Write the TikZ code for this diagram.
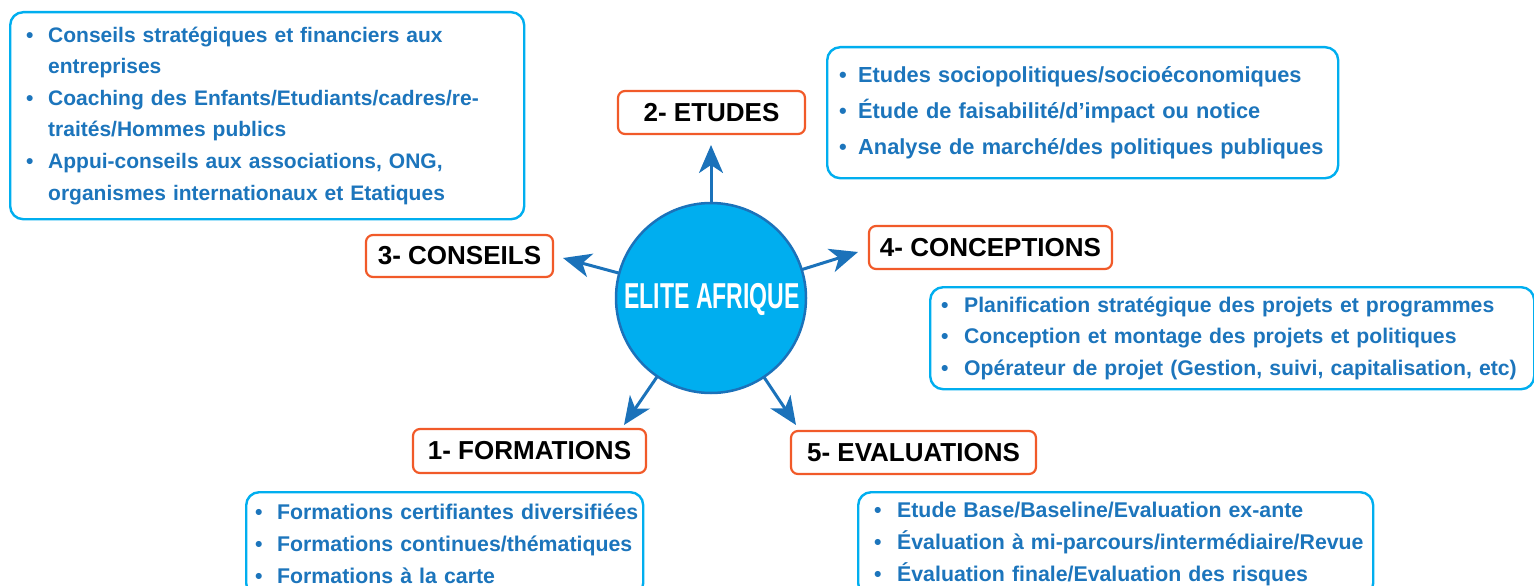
\documentclass[tikz,border=0pt]{standalone}
\usepackage{fontspec}
\setmainfont{Liberation Sans}
\usetikzlibrary{arrows.meta}
\definecolor{cyanb}{HTML}{00AEEF}
\definecolor{textb}{HTML}{1C75BC}
\definecolor{arrowb}{HTML}{1B72BA}
\definecolor{orng}{HTML}{F15A29}
\newcommand{\bitem}[2]{\mbox{\makebox[#1][l]{•}#2}}
\newcommand{\bcont}[2]{\mbox{\hspace*{#1}#2}}
\tikzset{
  lab/.style={draw=orng, line width=2.2pt, rounded corners=7pt, fill=white, inner sep=0pt,
    font=\fontsize{26}{26}\selectfont\bfseries, text=black},
  info/.style={draw=cyanb, line width=2.4pt, rounded corners=13pt, fill=white, anchor=north west,
    align=left, inner ysep=0pt, text=textb},
  arr/.style={draw=arrowb, line width=3pt, -{Stealth[length=28pt, width=24pt, inset=8pt]}}
}
\begin{document}
\begin{tikzpicture}[x=1pt, y=-1pt]
\useasboundingbox (0,0) rectangle (1534,586);

% centre
\node[circle, fill=cyanb, draw=arrowb, line width=2.5pt, minimum size=190pt, inner sep=0pt, outer sep=0pt] (c) at (711,298) {};
\node[text=white, inner sep=0pt] (ct) at (712,299) {\scalebox{0.64}[1]{\fontsize{36}{36}\selectfont\bfseries ELITE AFRIQUE}};

% label boxes
\node[lab, minimum width=187pt, minimum height=43pt] (e2) at (711.5,112.5) {2- ETUDES};
\node[lab, minimum width=187pt, minimum height=42pt] (e3) at (459.5,256) {3- CONSEILS};
\node[lab, minimum width=243pt, minimum height=43pt] (e4) at (990.5,247.5) {4- CONCEPTIONS};
\node[lab, minimum width=233pt, minimum height=44pt] (e1) at (529.5,451) {1- FORMATIONS};
\node[lab, minimum width=245pt, minimum height=43pt] (e5) at (913.5,452.5) {5- EVALUATIONS};

% arrow tips
\coordinate (t2) at (711,145);
\coordinate (t3) at (563,258);
\coordinate (t4) at (858,252);
\coordinate (t1) at (624,425);
\coordinate (t5) at (796,425);
\draw[arr] (c) -- (t2);
\draw[arr] (c) -- (t3);
\draw[arr] (c) -- (t4);
\draw[arr] (c) -- (t1);
\draw[arr] (c) -- (t5);

% info boxes
\node[info, inner xsep=16pt, text width=482pt, minimum height=207pt,
  font=\fontsize{21}{31.6}\selectfont\bfseries] (b3) at (9,11) {%
\bitem{22pt}{Conseils stratégiques et financiers aux}\\
\bcont{22pt}{entreprises}\\
\bitem{22pt}{Coaching des Enfants/Etudiants/cadres/re-}\\
\bcont{22pt}{traités/Hommes publics}\\
\bitem{22pt}{Appui-conseils aux associations, ONG,}\\
\bcont{22pt}{organismes internationaux et Etatiques}};

\node[info, inner xsep=12pt, text width=487pt, minimum height=131pt,
  font=\fontsize{21.8}{36}\selectfont\bfseries] (b2) at (826,46) {%
\bitem{19pt}{Etudes sociopolitiques/socioéconomiques}\\
\bitem{19pt}{Étude de faisabilité/d’impact ou notice}\\
\bitem{19pt}{Analyse de marché/des politiques publiques}};

\node[info, inner xsep=11pt, text width=582pt, minimum height=102pt,
  font=\fontsize{21.2}{31.5}\selectfont\bfseries] (b4) at (929,286) {%
\bitem{23pt}{Planification stratégique des projets et programmes}\\
\bitem{23pt}{Conception et montage des projets et politiques}\\
\bitem{23pt}{Opérateur de projet (Gestion, suivi, capitalisation, etc)}};

\node[info, inner xsep=9pt, text width=379pt, minimum height=104pt,
  font=\fontsize{21.3}{32}\selectfont\bfseries] (b1) at (245,491) {%
\bitem{22pt}{Formations certifiantes diversifiées}\\
\bitem{22pt}{Formations continues/thématiques}\\
\bitem{22pt}{Formations à la carte}};

\node[info, inner xsep=16pt, text width=483pt, minimum height=104pt,
  font=\fontsize{21.3}{32}\selectfont\bfseries] (b5) at (857,491) {%
\bitem{23pt}{Etude Base/Baseline/Evaluation ex-ante}\\
\bitem{23pt}{Évaluation à mi-parcours/intermédiaire/Revue}\\
\bitem{23pt}{Évaluation finale/Evaluation des risques}};
\end{tikzpicture}
\end{document}
